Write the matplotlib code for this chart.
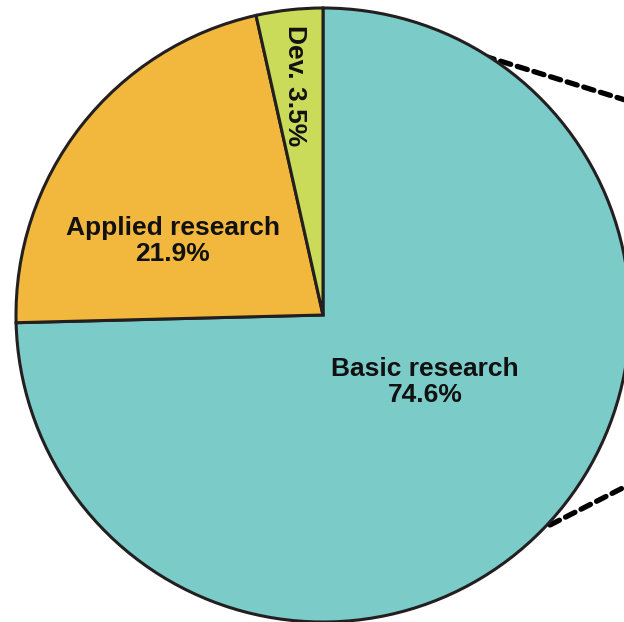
import matplotlib.pyplot as plt

plt.rcParams['font.family'] = ['Liberation Sans', 'DejaVu Sans']

labels = ['Basic research', 'Applied research', 'Dev.']
shares = [74.6, 21.9, 3.5]
colors = ['#7bccc8', '#f2b83d', '#cadb5a']

W, H = 624, 622
fig = plt.figure(figsize=(W / 100, H / 100), dpi=100)
ax = fig.add_axes([0, 0, 1, 1])

cx, cy, r = 323, 315, 307

# connector lines to the (cropped) detail chart on the right
ax.plot([484, 760], [56, 142], ls=(0, (2.0, 1.3)), lw=3.8, color='black',
        dash_capstyle='round', zorder=1)
ax.plot([550, 760], [525, 418], ls=(0, (2.0, 1.3)), lw=3.8, color='black',
        dash_capstyle='round', zorder=1)

# y axis is flipped, so counterclock=True draws clockwise on screen
wedges, _ = ax.pie(shares, colors=colors, startangle=-90, counterclock=True,
                   center=(cx, cy), radius=r, frame=True,
                   wedgeprops=dict(edgecolor='#231f20', linewidth=2.2))
for w in wedges:
    w.set_zorder(2)
ax.set_xlim(0, W)
ax.set_ylim(H, 0)
ax.set_aspect('equal')
ax.axis('off')

txt = dict(fontsize=19, fontweight='bold', ha='center', va='center',
           linespacing=1.1, color='#111111', zorder=3)
ax.text(425, 382, f'{labels[0]}\n{shares[0]}%', **txt)
ax.text(173, 241, f'{labels[1]}\n{shares[1]}%', **txt)
ax.text(295, 86, f'{labels[2]} {shares[2]}%', rotation=-90, **txt)

fig.savefig('out.png', dpi=100)
